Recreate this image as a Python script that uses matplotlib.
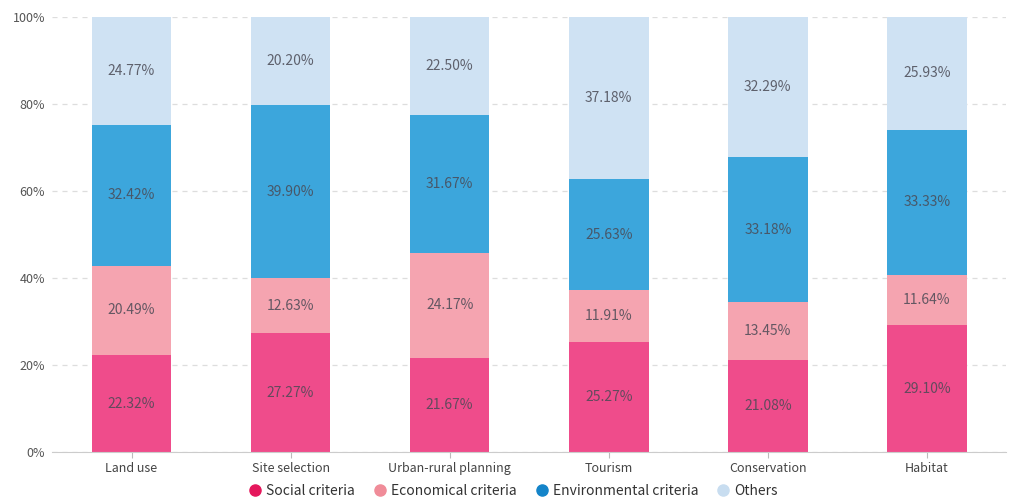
import matplotlib.pyplot as plt
import numpy as np

plt.rcParams['font.family'] = ['Noto Sans CJK SC', 'DejaVu Sans']

categories = ['Land use', 'Site selection', 'Urban-rural planning', 'Tourism', 'Conservation', 'Habitat']
social = [22.32, 27.27, 21.67, 25.27, 21.08, 29.10]
economical = [20.49, 12.63, 24.17, 11.91, 13.45, 11.64]
environmental = [32.42, 39.90, 31.67, 25.63, 33.18, 33.33]
others = [24.77, 20.20, 22.50, 37.18, 32.29, 25.93]

series = [
    ('Social criteria', social, '#EF4C8B', '#E5175C'),
    ('Economical criteria', economical, '#F5A4B0', '#F08C99'),
    ('Environmental criteria', environmental, '#3CA6DC', '#1484C9'),
    ('Others', others, '#CFE2F3', '#C8DDF0'),
]

fig = plt.figure(figsize=(10.09, 4.99), dpi=100)
ax = fig.add_axes([0.0515, 0.094, 0.946, 0.872])

x = np.arange(len(categories))
bottom = np.zeros(len(categories))
for name, vals, col, _ in series:
    vals = np.array(vals)
    ax.bar(x, vals, 0.5, bottom=bottom, color=col, zorder=2)
    for xi, b, v in zip(x, bottom, vals):
        ax.text(xi, b + v / 2, f'{v:.2f}%', ha='center', va='center',
                fontsize=10, color='#4a4a55', alpha=0.85, zorder=3)
    bottom += vals

ax.set_xlim(-0.5, len(categories) - 0.5)
ax.set_ylim(0, 100)
ax.set_yticks([0, 20, 40, 60, 80, 100])
ax.set_yticklabels([f'{t}%' for t in [0, 20, 40, 60, 80, 100]])
ax.set_xticks(x)
ax.set_xticklabels(categories)
ax.tick_params(axis='y', length=0, labelsize=9, labelcolor='#555555', pad=5)
ax.tick_params(axis='x', length=4, color='#bbbbbb', labelsize=9, labelcolor='#444444', pad=3)
ax.yaxis.grid(True, linestyle=(0, (4, 4)), color='#dddddd', linewidth=0.9, zorder=0)
ax.set_axisbelow(True)
for s in ['top', 'right', 'left']:
    ax.spines[s].set_visible(False)
ax.spines['bottom'].set_color('#cccccc')

# legend
handles = [plt.Line2D([], [], marker='o', linestyle='none', markersize=8,
                      markerfacecolor=lc, markeredgecolor=lc) for _, _, _, lc in series]
fig.legend(handles, [s[0] for s in series], loc='center', ncol=4,
           bbox_to_anchor=(0.505, 0.016), frameon=False, fontsize=10,
           borderpad=0, handletextpad=-0.2, columnspacing=0.8, labelcolor='#333333')

fig.savefig('out.png', dpi=100)
